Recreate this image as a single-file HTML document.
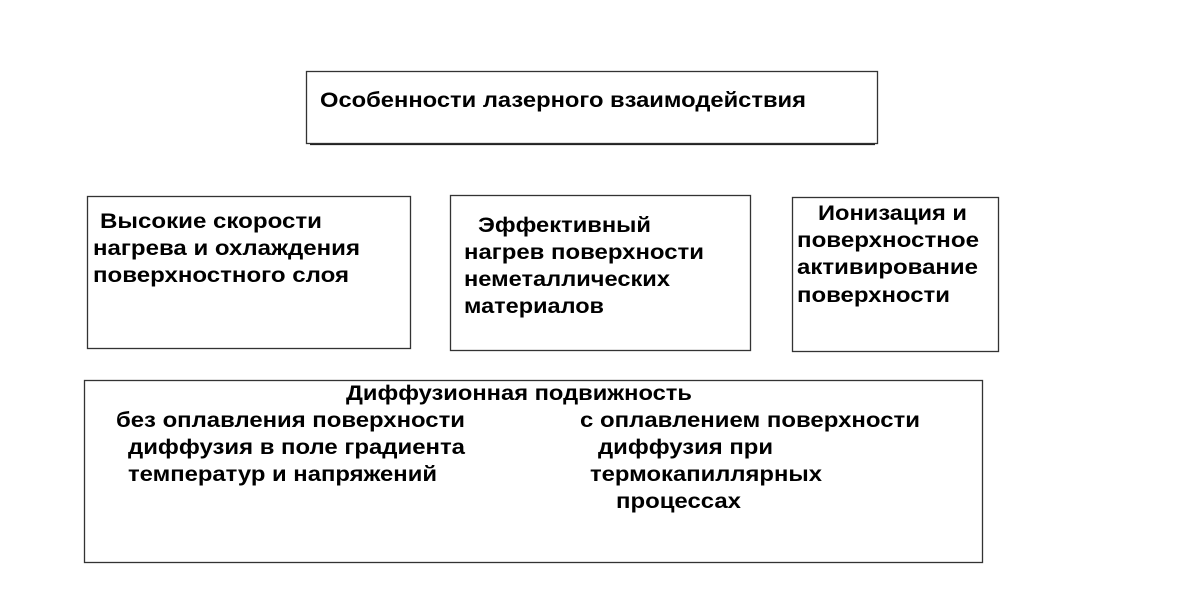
<!DOCTYPE html>
<html><head><meta charset="utf-8"><style>
html,body{margin:0;padding:0;background:#fff;}
svg{display:block}
text{font-family:"Liberation Sans","DejaVu Sans",sans-serif;font-weight:bold;font-size:21px;fill:#000}
</style></head><body>
<svg width="1200" height="595" viewBox="0 0 1200 595" xmlns="http://www.w3.org/2000/svg">
<g fill="none" stroke="#333" stroke-width="1.3">
<rect x="306.5" y="71.5" width="571" height="72"/>
<line x1="310" y1="144.5" x2="875" y2="144.5" stroke="#222"/>
<rect x="87.5" y="196.5" width="323" height="152"/>
<rect x="450.5" y="195.5" width="300" height="155"/>
<rect x="792.5" y="197.5" width="206" height="154"/>
<rect x="84.5" y="380.5" width="898" height="182"/>
</g>
<text x="320" y="107" textLength="486" lengthAdjust="spacingAndGlyphs">Особенности лазерного взаимодействия</text>
<text x="100" y="228" textLength="222" lengthAdjust="spacingAndGlyphs">Высокие скорости</text>
<text x="93" y="255" textLength="267" lengthAdjust="spacingAndGlyphs">нагрева и охлаждения</text>
<text x="93" y="282" textLength="256" lengthAdjust="spacingAndGlyphs">поверхностного слоя</text>
<text x="478" y="232" textLength="173" lengthAdjust="spacingAndGlyphs">Эффективный</text>
<text x="464" y="259" textLength="240" lengthAdjust="spacingAndGlyphs">нагрев поверхности</text>
<text x="464" y="286" textLength="206" lengthAdjust="spacingAndGlyphs">неметаллических</text>
<text x="464" y="313" textLength="140" lengthAdjust="spacingAndGlyphs">материалов</text>
<text x="818" y="220" textLength="149" lengthAdjust="spacingAndGlyphs">Ионизация и</text>
<text x="797" y="247" textLength="182" lengthAdjust="spacingAndGlyphs">поверхностное</text>
<text x="797" y="274" textLength="181" lengthAdjust="spacingAndGlyphs">активирование</text>
<text x="797" y="302" textLength="153" lengthAdjust="spacingAndGlyphs">поверхности</text>
<text x="346" y="400" textLength="346" lengthAdjust="spacingAndGlyphs">Диффузионная подвижность</text>
<text x="116" y="427" textLength="349" lengthAdjust="spacingAndGlyphs">без оплавления поверхности</text>
<text x="128" y="454" textLength="337" lengthAdjust="spacingAndGlyphs">диффузия в поле градиента</text>
<text x="128" y="481" textLength="309" lengthAdjust="spacingAndGlyphs">температур и напряжений</text>
<text x="580" y="427" textLength="340" lengthAdjust="spacingAndGlyphs">с оплавлением поверхности</text>
<text x="598" y="454" textLength="175" lengthAdjust="spacingAndGlyphs">диффузия при</text>
<text x="590" y="481" textLength="232" lengthAdjust="spacingAndGlyphs">термокапиллярных</text>
<text x="616" y="508" textLength="125" lengthAdjust="spacingAndGlyphs">процессах</text>
</svg>
</body></html>
